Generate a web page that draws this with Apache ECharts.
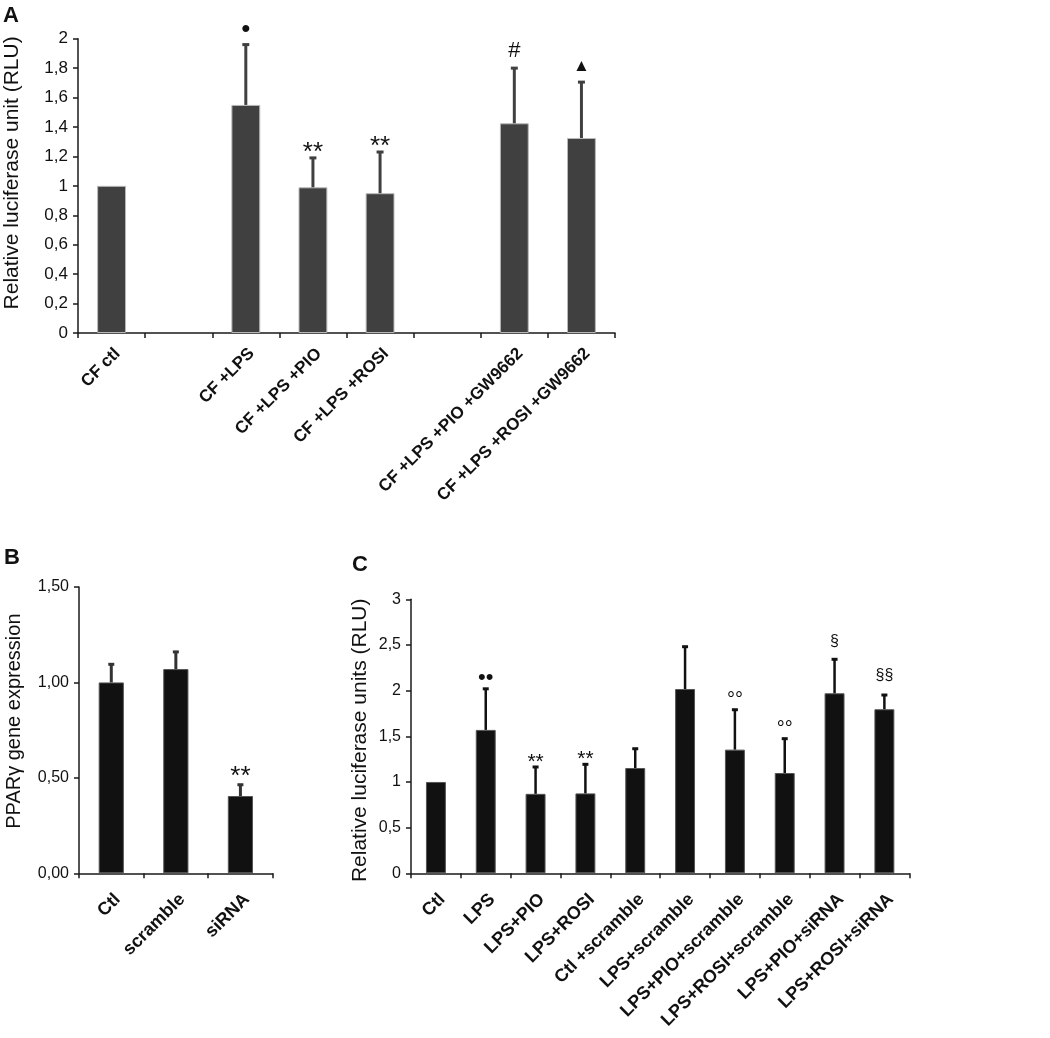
<!DOCTYPE html>
<html><head><meta charset="utf-8">
<script src="https://cdn.jsdelivr.net/npm/echarts@6/dist/echarts.min.js"></script>
<style>html,body{margin:0;padding:0;background:#fff}#c{width:1050px;height:1038px}</style>
</head><body><div id="c"></div>
<script>
// ---------- Panel A ----------
const catsA = ['CF ctl', '', 'CF +LPS', 'CF +LPS +PIO', 'CF +LPS +ROSI', '', 'CF +LPS +PIO +GW9662', 'CF +LPS +ROSI +GW9662'];
const meanA = [1.00, null, 1.55, 0.99, 0.95, null, 1.425, 1.325];
const errTopA = [null, null, 1.96, 1.19, 1.23, null, 1.80, 1.705];
const markA = ['', '', '•', '**', '**', '', '#', '▲'];
const ticksA = ['0', '0,2', '0,4', '0,6', '0,8', '1', '1,2', '1,4', '1,6', '1,8', '2'];
// ---------- Panel B ----------
const catsB = ['Ctl', 'scramble', 'siRNA'];
const meanB = [1.00, 1.07, 0.405];
const errTopB = [1.095, 1.16, 0.464];
const markB = ['', '', '**'];
const ticksB = ['0,00', '0,50', '1,00', '1,50'];
// ---------- Panel C ----------
const catsC = ['Ctl', 'LPS', 'LPS+PIO', 'LPS+ROSI', 'Ctl +scramble', 'LPS+scramble', 'LPS+PIO+scramble', 'LPS+ROSI+scramble', 'LPS+PIO+siRNA', 'LPS+ROSI+siRNA'];
const meanC = [1.00, 1.57, 0.87, 0.875, 1.153, 2.018, 1.354, 1.098, 1.971, 1.796];
const errTopC = [null, 2.02, 1.164, 1.193, 1.364, 2.481, 1.791, 1.474, 2.343, 1.952];
const markC = ['', '••', '**', '**', '', '', '°°', '°°', '§', '§§'];
const ticksC = ['0', '0,5', '1', '1,5', '2', '2,5', '3'];

const FONT = '"Liberation Sans", Arial, sans-serif';
const chart = echarts.init(document.getElementById('c'), null, {renderer: 'canvas'});

function yAxisCfg(gi, max, step, ticks, name, nameSize, nameGap, namePad, labSize, labMargin) {
  return {
    type: 'value', gridIndex: gi, min: 0, max: max, interval: step,
    name: name, nameLocation: 'middle', nameRotate: 90, nameGap: nameGap,
    nameTextStyle: {fontFamily: FONT, fontSize: nameSize, color: '#111', padding: namePad},
    axisLine: {show: true, lineStyle: {color: '#1a1a1a', width: 1.5}},
    axisTick: {show: true, inside: false, length: 5, lineStyle: {color: '#1a1a1a', width: 1.5}},
    axisLabel: {fontFamily: FONT, fontSize: labSize, color: '#111', margin: labMargin,
      formatter: v => ticks[Math.round(v / step)]},
    splitLine: {show: false}
  };
}
function xAxisCfg(gi, cats, labSize, margin) {
  return {
    type: 'category', gridIndex: gi, data: cats,
    axisLine: {show: true, lineStyle: {color: '#1a1a1a', width: 1.5}},
    axisTick: {show: true, inside: false, length: 5, interval: 0, alignWithLabel: false, lineStyle: {color: '#1a1a1a', width: 1.5}},
    axisLabel: {interval: 0, rotate: 45, verticalAlign: 'top', fontFamily: FONT, fontWeight: 'bold', fontSize: labSize, color: '#111', margin: margin},
    splitLine: {show: false}
  };
}
// visual style per symbol: [font size, gap above the error-bar top]
function errSeries(gi, means, tops, marks, color, lw, capW, capLw, symStyle) {
  return {
    type: 'custom', xAxisIndex: gi, yAxisIndex: gi, z: 5, silent: true,
    data: means.map((m, i) => [i, m == null ? 0 : m, tops[i] == null ? (m == null ? 0 : m) : tops[i]]),
    renderItem: function (params, api) {
      const i = params.dataIndex;
      if (means[i] == null) return {type: 'group', children: []};
      const pm = api.coord([api.value(0), api.value(1)]);
      const pt = api.coord([api.value(0), api.value(2)]);
      const children = [];
      if (tops[i] != null) {
        children.push({type: 'line', shape: {x1: pm[0], y1: pm[1], x2: pt[0], y2: pt[1]}, style: {stroke: color, lineWidth: lw}});
        children.push({type: 'line', shape: {x1: pt[0] - capW / 2, y1: pt[1], x2: pt[0] + capW / 2, y2: pt[1]}, style: {stroke: color, lineWidth: capLw}});
      }
      if (marks[i]) {
        const st = symStyle[marks[i]] || [20, 10];
        children.push({type: 'text', x: pt[0], y: pt[1] - st[1],
          style: {text: marks[i], fill: '#111', font: st[0] + 'px ' + FONT, textAlign: 'center', textVerticalAlign: 'middle'}});
      }
      return {type: 'group', children: children};
    }
  };
}
const symA = {'•': [26, 15], '**': [26, 5], '#': [22, 17], '▲': [17, 16]};
const symB = {'**': [26, 8]};
const symC = {'••': [22, 11], '**': [21, 5], '°°': [20, 9], '§': [16, 18], '§§': [16, 19]};

const option = {
  animation: false,
  backgroundColor: '#fff',
  graphic: [
    {type: 'text', left: 3, top: 5, style: {text: 'A', font: 'bold 22px ' + FONT, fill: '#111'}},
    {type: 'text', left: 4, top: 547, style: {text: 'B', font: 'bold 22px ' + FONT, fill: '#111'}},
    {type: 'text', left: 352, top: 554, style: {text: 'C', font: 'bold 22px ' + FONT, fill: '#111'}}
  ],
  grid: [
    {left: 78, top: 38.7, width: 537, height: 294.3, containLabel: false, outerBoundsMode: 'none'},
    {left: 79, top: 587, width: 193.7, height: 286.3, containLabel: false, outerBoundsMode: 'none'},
    {left: 411, top: 599.3, width: 498.3, height: 274, containLabel: false, outerBoundsMode: 'none'}
  ],
  xAxis: [xAxisCfg(0, catsA, 17, 12), xAxisCfg(1, catsB, 18, 17), xAxisCfg(2, catsC, 18, 17)],
  yAxis: [
    yAxisCfg(0, 2, 0.2, ticksA, 'Relative luciferase unit (RLU)', 21, 55, [0, 0, 0, 26], 17, 10),
    yAxisCfg(1, 1.5, 0.5, ticksB, 'PPARγ gene expression', 20, 55, [0, 0, 0, 18], 16, 10),
    yAxisCfg(2, 3, 0.5, ticksC, 'Relative luciferase units (RLU)', 21, 40, [0, 8, 0, 0], 16, 10)
  ],
  series: [
    {type: 'bar', xAxisIndex: 0, yAxisIndex: 0, data: meanA, barWidth: '43%',
      itemStyle: {color: '#404040', borderColor: '#b8b8b8', borderWidth: 1}},
    {type: 'bar', xAxisIndex: 1, yAxisIndex: 1, data: meanB, barWidth: '39%',
      itemStyle: {color: '#111111', borderColor: '#555', borderWidth: 1}},
    {type: 'bar', xAxisIndex: 2, yAxisIndex: 2, data: meanC, barWidth: '40%',
      itemStyle: {color: '#111111', borderColor: '#555', borderWidth: 1}},
    errSeries(0, meanA, errTopA, markA, '#404040', 3, 7, 3, symA),
    errSeries(1, meanB, errTopB, markB, '#333333', 3, 6, 3, symB),
    errSeries(2, meanC, errTopC, markC, '#111111', 2.5, 6, 3, symC)
  ]
};
chart.setOption(option);
</script>
</body></html>
